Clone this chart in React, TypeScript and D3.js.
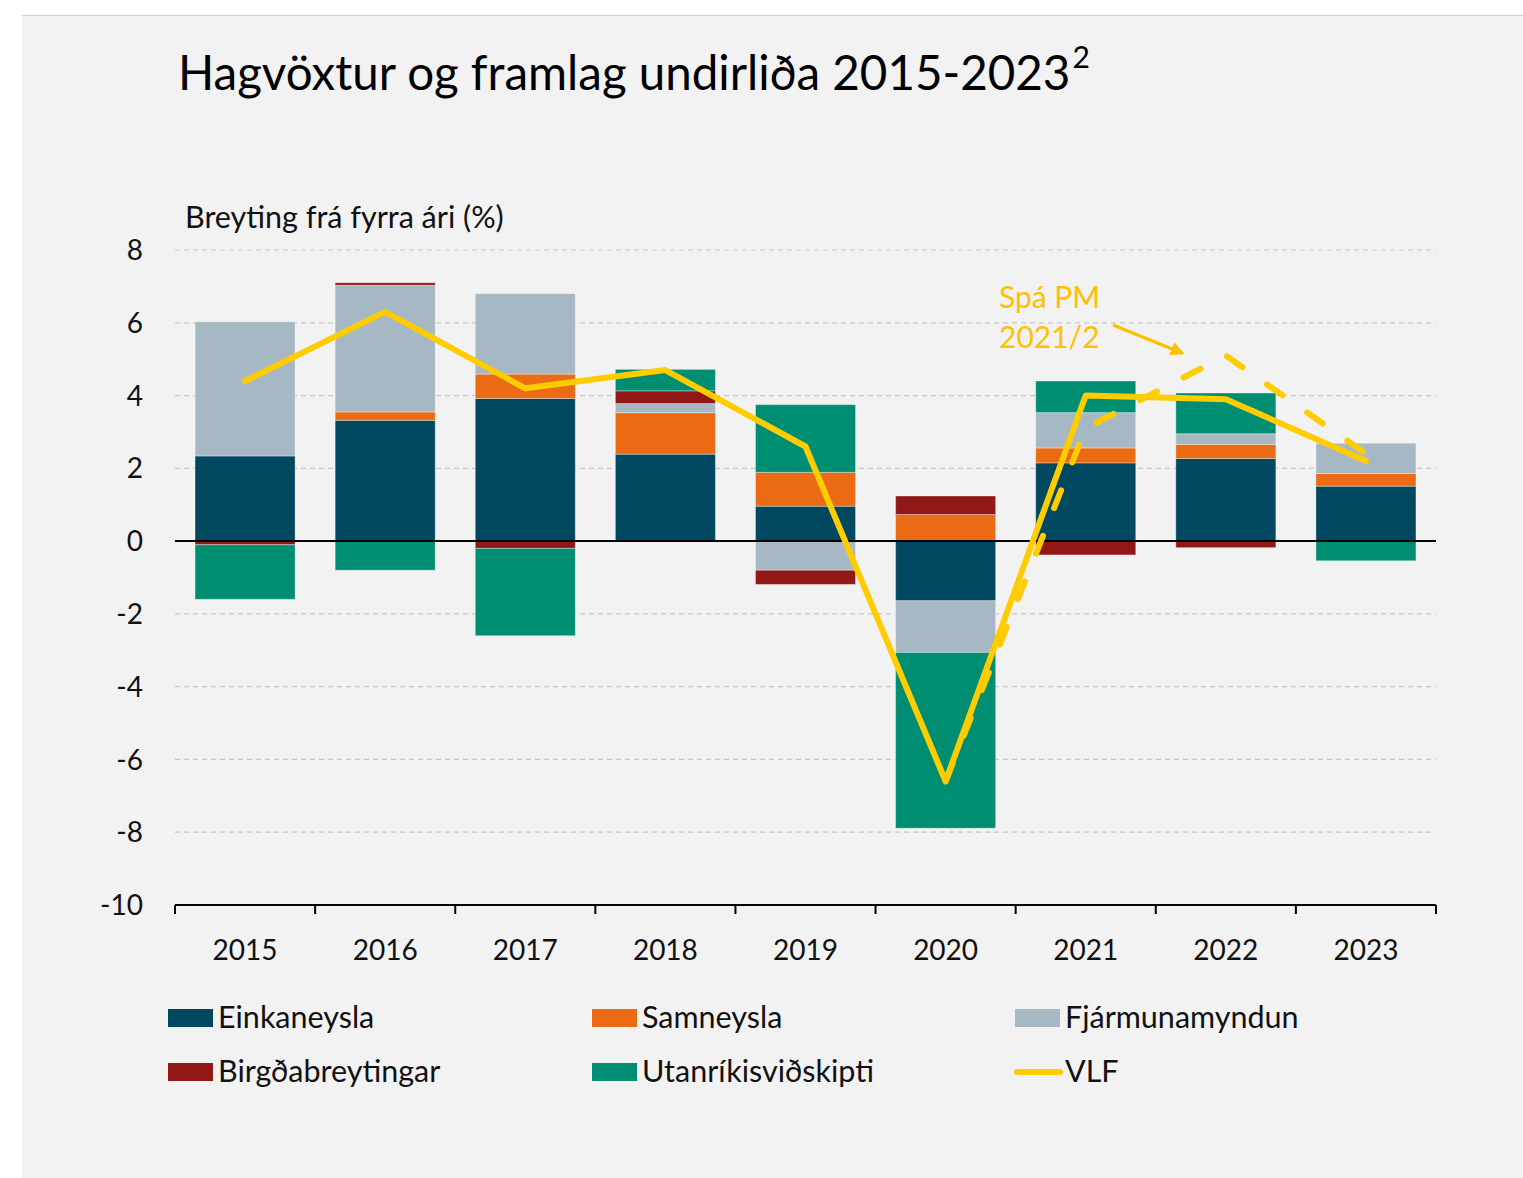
import React from "react";
import * as d3 from "d3";

const years = ["2015", "2016", "2017", "2018", "2019", "2020", "2021", "2022", "2023"];
const seriesNames = ["Einkaneysla", "Samneysla", "Fjármunamyndun", "Birgðabreytingar", "Utanríkisviðskipti"];
const einkaneysla = [2.34, 3.32, 3.92, 2.39, 0.96, -1.64, 2.15, 2.27, 1.51];
const samneysla = [0.0, 0.23, 0.67, 1.14, 0.93, 0.73, 0.41, 0.39, 0.35];
const fjarmunamyndun = [3.69, 3.48, 2.21, 0.25, -0.8, -1.42, 0.97, 0.29, 0.83];
const birgdabreytingar = [-0.1, 0.07, -0.2, 0.35, -0.39, 0.51, -0.38, -0.18, 0.0];
const utanrikisvidskipti = [-1.5, -0.8, -2.4, 0.59, 1.86, -4.83, 0.87, 1.12, -0.54];
const vlf = [4.4, 6.3, 4.2, 4.7, 2.6, -6.6, 4.0, 3.9, 2.2];
const spaYears = ["2020", "2021", "2022", "2023"];
const spaValues = [-6.6, 3.1, 5.1, 2.4];
const yTicks = [8, 6, 4, 2, 0, -2, -4, -6, -8, -10];
const colors = ["#00485F", "#EA6B14", "#A6B8C3", "#921818", "#008E72"];
const lineColor = "#FFCC00";
const textGold = "#FFC000";

const FONT = "Lato, 'Open Sans', sans-serif";

export default function App() {
  const W = 1523, H = 1178;
  const x = d3.scaleBand().domain(years).range([175, 1436]).paddingInner(0.286).paddingOuter(0.143);
  const y = d3.scaleLinear().domain([-10, 8]).range([905, 250]);
  const seriesData = [einkaneysla, samneysla, fjarmunamyndun, birgdabreytingar, utanrikisvidskipti];
  const rows = years.map((yr, i) => {
    const o: any = { year: yr };
    seriesNames.forEach((s, k) => (o[s] = seriesData[k][i]));
    return o;
  });
  const stacked = d3.stack().keys(seriesNames).offset(d3.stackOffsetDiverging)(rows as any);
  const cx = (yr: string) => (x(yr) as number) + x.bandwidth() / 2;
  const line = d3.line<[string, number]>().x((d) => cx(d[0])).y((d) => y(d[1]));
  const vlfPath = line(years.map((yr, i) => [yr, vlf[i]]));
  const spaPath = line(spaYears.map((yr, i) => [yr, spaValues[i]]));
  const boundaries = years.map((yr) => (x(yr) as number) - (x.step() * x.paddingInner()) / 2);
  boundaries.push(1436);
  boundaries[0] = 175;

  const legendItems = [
    { name: "Einkaneysla", color: colors[0], type: "rect" },
    { name: "Samneysla", color: colors[1], type: "rect" },
    { name: "Fjármunamyndun", color: colors[2], type: "rect" },
    { name: "Birgðabreytingar", color: colors[3], type: "rect" },
    { name: "Utanríkisviðskipti", color: colors[4], type: "rect" },
    { name: "VLF", color: lineColor, type: "line" },
  ];
  const legX = [168, 592, 1015];
  const legY = [1009, 1063];

  return (
    <svg width={W} height={H} style={{ position: "absolute", left: 0, top: 0 }} fontFamily={FONT}>
      <rect x={0} y={0} width={W} height={H} fill="#ffffff" />
      <rect x={22} y={15} width={W - 22} height={H - 15} fill="#F2F2F2" />
      <line x1={22} x2={W} y1={15.5} y2={15.5} stroke="#D0D0D0" strokeWidth={1} />
      <text x={178} y={90} fontSize={47.5} fill="#000">
        Hagvöxtur og framlag undirliða 2015-2023
        <tspan dx={2} dy={-22} fontSize={30}>2</tspan>
      </text>
      <text x={185} y={228} fontSize={30.5} fill="#111">Breyting frá fyrra ári (%)</text>
      {yTicks.filter((t) => t !== 0 && t !== -10).map((t) => (
        <line key={t} x1={175} x2={1436} y1={y(t)} y2={y(t)} stroke="#C8C8C8" strokeWidth={1.2} strokeDasharray="5 4" />
      ))}
      {yTicks.map((t) => (
        <text key={t} x={143} y={y(t)} dy="0.36em" textAnchor="end" fontSize={28} fill="#111">{t}</text>
      ))}
      {stacked.map((s, k) => (
        <g key={s.key} fill={colors[k]}>
          {s.map((d: any, i: number) => {
            const y0 = y(d[0]), y1 = y(d[1]);
            const h = Math.abs(y0 - y1);
            if (h < 0.01) return null;
            return (
              <rect key={i} x={x(years[i])} width={x.bandwidth()} y={Math.min(y0, y1)} height={h}
                stroke="#ffffff" strokeOpacity={0.35} strokeWidth={1} />
            );
          })}
        </g>
      ))}
      <line x1={175} x2={1436} y1={y(0)} y2={y(0)} stroke="#000" strokeWidth={2} />
      <line x1={175} x2={1436} y1={y(-10)} y2={y(-10)} stroke="#000" strokeWidth={2} />
      {boundaries.map((b, i) => (
        <line key={i} x1={b} x2={b} y1={y(-10)} y2={y(-10) + 9} stroke="#000" strokeWidth={2} />
      ))}
      {years.map((yr) => (
        <text key={yr} x={cx(yr)} y={960} textAnchor="middle" fontSize={28} fill="#111">{yr}</text>
      ))}
      <path d={spaPath || ""} fill="none" stroke={lineColor} strokeWidth={6} strokeDasharray="19 30" strokeLinecap="round" strokeLinejoin="round" />
      <path d={vlfPath || ""} fill="none" stroke={lineColor} strokeWidth={6} strokeLinecap="round" strokeLinejoin="round" />
      <text x={999} y={308} fontSize={30} fill={textGold}>Spá PM</text>
      <text x={999} y={348} fontSize={30} fill={textGold}>2021/2</text>
      <defs>
        <marker id="arr" viewBox="0 0 10 10" refX={8} refY={5} markerWidth={4} markerHeight={4} orient="auto" markerUnits="strokeWidth">
          <path d="M0,0 L10,5 L0,10 z" fill={textGold} />
        </marker>
      </defs>
      <line x1={1113} y1={325} x2={1182} y2={353} stroke={textGold} strokeWidth={3.5} markerEnd="url(#arr)" />
      {legendItems.map((it, i) => {
        const col = i % 3, row = Math.floor(i / 3);
        const lx = legX[col], ly = legY[row];
        return (
          <g key={it.name}>
            {it.type === "rect" ? (
              <rect x={lx} y={ly} width={45} height={18} fill={it.color} />
            ) : (
              <line x1={lx + 2} x2={lx + 45} y1={ly + 9} y2={ly + 9} stroke={it.color} strokeWidth={6} strokeLinecap="round" />
            )}
            <text x={lx + 50} y={ly + 19} fontSize={30.5} fill="#111">{it.name}</text>
          </g>
        );
      })}
    </svg>
  );
}
